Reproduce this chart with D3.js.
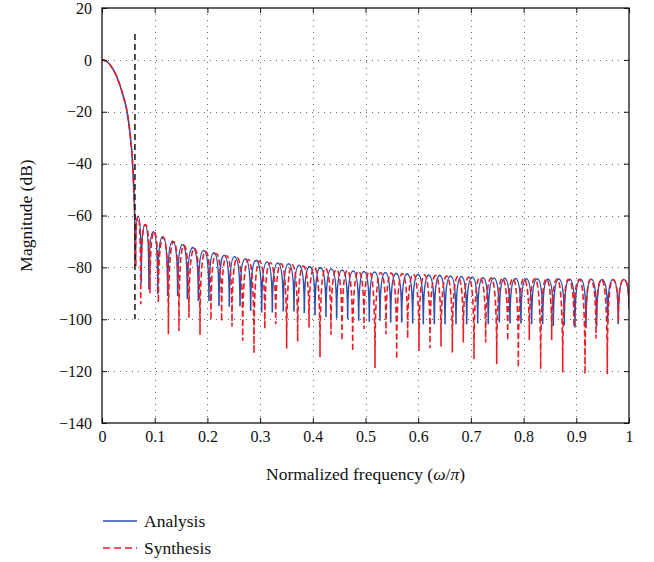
<!DOCTYPE html>
<html>
<head>
<meta charset="utf-8">
<script src="https://cdn.jsdelivr.net/npm/d3@7"></script>
<style>
  body { margin: 0; background: #fff; }
  svg text { font-family: "Liberation Serif", "DejaVu Serif", serif; fill: #111; }
</style>
</head>
<body>
<svg id="chart" width="654" height="562"></svg>
<script>
// main lobe (shared by both filters)
const mainX  = [0, 0.008, 0.0152, 0.0278, 0.0405, 0.0468, 0.0531, 0.0576, 0.0601, 0.062, 0.0635];
const mainDb = [0, -0.5, -1.9, -6.4, -14.1, -19.2, -28.2, -38.5, -48.7, -60, -79.5];

// analysis filter: null positions, null depths, lobe tops between nulls
const anaNullX  = [0.0635, 0.0745, 0.089, 0.1057, 0.1246, 0.1436, 0.1619, 0.1828, 0.203, 0.222,
                   0.2416, 0.2619, 0.2821, 0.303, 0.3232, 0.344, 0.3643, 0.3839, 0.4042, 0.425,
                   0.4453, 0.4662, 0.4871, 0.5072, 0.5275, 0.5478, 0.5687, 0.5895, 0.6097, 0.6306,
                   0.6509, 0.6717, 0.692, 0.7129, 0.733, 0.7539, 0.7742, 0.795, 0.8153, 0.8362,
                   0.8564, 0.8772, 0.8975, 0.9184, 0.9387, 0.9596, 0.9797];
const anaNullDb = [-79.5, -86, -88.5, -90.4, -91, -91, -92.3, -93, -93, -94.9,
                   -95.2, -95, -96.8, -97.4, -97.4, -97, -97, -97.6, -98.5, -99.1,
                   -99.7, -100, -100.6, -101, -100.6, -101.3, -101.3, -101.6, -101.9, -101.9,
                   -101.9, -101.9, -101.9, -101.6, -101.9, -101.3, -101.6, -101.6, -101.9, -101.9,
                   -102.6, -102.3, -103.2, -103.2, -102.6, -101.3, -101.9];
const anaPeakDb = [-60.5, -63.5, -66.3, -68.2, -69.9, -71.2, -72.4, -73.5, -74.4, -75.3,
                   -75.9, -76.7, -77.3, -77.9, -78.3, -78.6, -79.2, -79.7, -80.1, -80.6,
                   -81, -81.4, -81.6, -81.8, -82, -82.3, -82.5, -82.7, -83, -83.1,
                   -83.3, -83.5, -83.7, -84, -84.1, -84.2, -84.3, -84.4, -84.4, -84.5,
                   -84.5, -84.6, -84.6, -84.6, -84.7, -84.7, -84.7];
const anaEnd = -96;

// synthesis filter
const synNullX  = [0.0635, 0.0735, 0.0911, 0.107, 0.126, 0.146, 0.165, 0.186, 0.2068, 0.227,
                   0.2467, 0.267, 0.2884, 0.309, 0.3296, 0.3504, 0.3713, 0.3928, 0.4137, 0.4345,
                   0.4554, 0.4757, 0.4972, 0.518, 0.5389, 0.5592, 0.58, 0.6015, 0.6224, 0.6433,
                   0.6648, 0.6856, 0.7059, 0.728, 0.749, 0.7698, 0.79, 0.8108, 0.8324, 0.8533,
                   0.8742, 0.8956, 0.9165, 0.9374, 0.9588, 0.9797];
const synNullDb = [-79.5, -94.2, -90, -93.8, -105.8, -104.5, -99.4, -106, -100.3, -100.9,
                   -102.8, -108.3, -113.2, -103.8, -101.9, -111.3, -108.6, -103.2, -114.7, -106,
                   -108.3, -112.4, -103.8, -118.8, -105.8, -115.4, -107.4, -112.2, -111.2, -110.5,
                   -112.8, -109, -115.4, -109, -117.3, -108.3, -118.6, -108, -119.2, -108,
                   -120.5, -103, -121.2, -107.4, -121.2, -101];
const synPeakDb = [-60.3, -63.5, -66.3, -68.5, -70, -71.5, -72.7, -73.8, -74.7, -75.5,
                   -76.3, -77, -77.6, -78.2, -78.6, -79, -79.5, -80, -80.4, -80.8,
                   -81.2, -81.5, -81.7, -82, -82.2, -82.4, -82.7, -82.9, -83.1, -83.3,
                   -83.5, -83.7, -83.9, -84.1, -84.2, -84.3, -84.4, -84.4, -84.5, -84.5,
                   -84.6, -84.6, -84.6, -84.7, -84.7, -84.7];
const synEnd = -96;

const cutoffX = 0.0625;
const cutoffDb = [10, -100];

const xTicks = [0, 0.1, 0.2, 0.3, 0.4, 0.5, 0.6, 0.7, 0.8, 0.9, 1];
const yTicks = [20, 0, -20, -40, -60, -80, -100, -120, -140];
const legendNames = ['Analysis', 'Synthesis'];

(function() {
  'use strict';

  const svg = d3.select('#chart'),
        left = 102, right = 629, top = 8, bottom = 423,
        blue = '#2d4fae', red = '#ec1c24';

  const x = d3.scaleLinear().domain([0, 1]).range([left, right]),
        y = d3.scaleLinear().domain([-140, 20]).range([bottom, top]);

  /**
   * Lobe curve: vertical at the nulls, flat at the tops
   */
  function Lobe(context) { this._context = context; }
  Lobe.prototype = {
    areaStart() { this._line = 0; },
    areaEnd() { this._line = NaN; },
    lineStart() { this._point = 0; },
    lineEnd() {
      if (this._line || (this._line !== 0 && this._point === 1)) this._context.closePath();
      this._line = 1 - this._line;
    },
    point(px, py) {
      px = +px; py = +py;
      if (!this._point) {
        this._point = 1;
        this._line ? this._context.lineTo(px, py) : this._context.moveTo(px, py);
      } else {
        this._point = 2;
        const x0 = this._x0, y0 = this._y0, dx = px - x0;
        if (py < y0) {
          this._context.bezierCurveTo(x0, y0 + (py - y0) * 0.72, x0 + dx * 0.42, py, px, py);
        } else {
          this._context.bezierCurveTo(x0 + dx * 0.58, y0, px, py - (py - y0) * 0.72, px, py);
        }
      }
      this._x0 = px; this._y0 = py;
    }
  };
  const lobeCurve = (context) => new Lobe(context);

  // build null/top sequence from the arrays
  const lobes = (nx, nd, pd, endDb) => {
    const pts = [];
    nx.forEach((v, i) => {
      pts.push([v, nd[i]]);
      const nxt = i + 1 < nx.length ? nx[i + 1] : 1;
      const mid = i + 1 < nx.length ? (v + nxt) / 2 : v + 0.0103;
      pts.push([mid, pd[i]]);
    });
    pts.push([1, endDb]);
    return pts;
  };

  const mainPts = mainX.map((v, i) => [v, mainDb[i]]);

  const mainLine = d3.line().x(d => x(d[0])).y(d => y(d[1])).curve(d3.curveMonotoneX),
        lobeLine = d3.line().x(d => x(d[0])).y(d => y(d[1])).curve(lobeCurve);

  svg.append('defs').append('clipPath').attr('id', 'plot')
    .append('rect').attr('x', left).attr('y', top)
    .attr('width', right - left).attr('height', bottom - top);

  // grid
  const grid = svg.append('g').attr('stroke', '#666').attr('stroke-width', 1);
  grid.selectAll('line.h')
    .data(yTicks.filter(v => v > -140 && v < 20))
    .enter().append('line')
      .attr('x1', left).attr('x2', right)
      .attr('y1', d => Math.round(y(d)) + 0.5).attr('y2', d => Math.round(y(d)) + 0.5)
      .attr('stroke-dasharray', '1,5');
  grid.selectAll('line.v')
    .data(xTicks.filter(v => v > 0 && v < 1))
    .enter().append('line')
      .attr('x1', d => Math.round(x(d)) + 0.5).attr('x2', d => Math.round(x(d)) + 0.5)
      .attr('y1', top).attr('y2', bottom)
      .attr('stroke-dasharray', '1,5');

  // curves
  const plot = svg.append('g').attr('clip-path', 'url(#plot)').attr('fill', 'none');

  plot.append('path').attr('d', mainLine(mainPts))
    .attr('stroke', blue).attr('stroke-width', 1.6);
  plot.append('path').attr('d', lobeLine(lobes(anaNullX, anaNullDb, anaPeakDb, anaEnd)))
    .attr('stroke', blue).attr('stroke-width', 1.6);

  plot.append('path').attr('d', mainLine(mainPts))
    .attr('stroke', red).attr('stroke-width', 1.6).attr('stroke-dasharray', '6,3');
  plot.append('path').attr('d', lobeLine(lobes(synNullX, synNullDb, synPeakDb, synEnd)))
    .attr('stroke', red).attr('stroke-width', 1.6).attr('stroke-dasharray', '6,3');

  // cutoff marker
  svg.append('line')
    .attr('x1', x(cutoffX)).attr('x2', x(cutoffX))
    .attr('y1', y(cutoffDb[0])).attr('y2', y(cutoffDb[1]))
    .attr('stroke', '#222').attr('stroke-width', 1.6).attr('stroke-dasharray', '6,4');

  // axes, ticks inside on all four sides
  const fmtX = d3.format('~g');
  const ax = (g) => g.call(s => s.select('.domain').remove())
                     .call(s => s.selectAll('line').attr('stroke', '#111'));

  svg.append('g').attr('transform', `translate(0,${bottom})`)
    .call(d3.axisBottom(x).tickValues(xTicks).tickFormat(fmtX).tickSizeInner(-5).tickSizeOuter(0).tickPadding(8))
    .call(ax)
    .selectAll('text').attr('font-size', 16);
  svg.append('g').attr('transform', `translate(0,${top})`)
    .call(d3.axisTop(x).tickValues(xTicks).tickFormat('').tickSizeInner(-5).tickSizeOuter(0))
    .call(ax);
  svg.append('g').attr('transform', `translate(${left},0)`)
    .call(d3.axisLeft(y).tickValues(yTicks).tickSizeInner(-5).tickSizeOuter(0).tickPadding(10))
    .call(ax)
    .selectAll('text').attr('font-size', 16);
  svg.append('g').attr('transform', `translate(${right},0)`)
    .call(d3.axisRight(y).tickValues(yTicks).tickFormat('').tickSizeInner(-5).tickSizeOuter(0))
    .call(ax);

  svg.selectAll('.tick text').attr('font-family', '"Liberation Serif", serif').attr('fill', '#111');

  svg.append('rect')
    .attr('x', left).attr('y', top).attr('width', right - left).attr('height', bottom - top)
    .attr('fill', 'none').attr('stroke', '#111').attr('stroke-width', 1.3);

  // axis titles
  svg.append('text')
    .attr('x', (left + right) / 2).attr('y', 480)
    .attr('text-anchor', 'middle').attr('font-size', 17.5)
    .html('Normalized frequency (<tspan font-style="italic">ω</tspan>/<tspan font-style="italic">π</tspan>)');

  svg.append('text')
    .attr('transform', `translate(32,${(top + bottom) / 2}) rotate(-90)`)
    .attr('text-anchor', 'middle').attr('font-size', 17.5)
    .text('Magnitude (dB)');

  // legend
  const leg = svg.append('g');
  legendNames.forEach((name, i) => {
    const ly = 521 + i * 27;
    leg.append('line')
      .attr('x1', 103).attr('x2', 137).attr('y1', ly).attr('y2', ly)
      .attr('stroke', i ? red : blue).attr('stroke-width', 1.4)
      .attr('stroke-dasharray', i ? '7,4' : null);
    leg.append('text')
      .attr('x', 144).attr('y', ly + 5.5).attr('font-size', 17.5)
      .text(name);
  });
})();
</script>
</body>
</html>
